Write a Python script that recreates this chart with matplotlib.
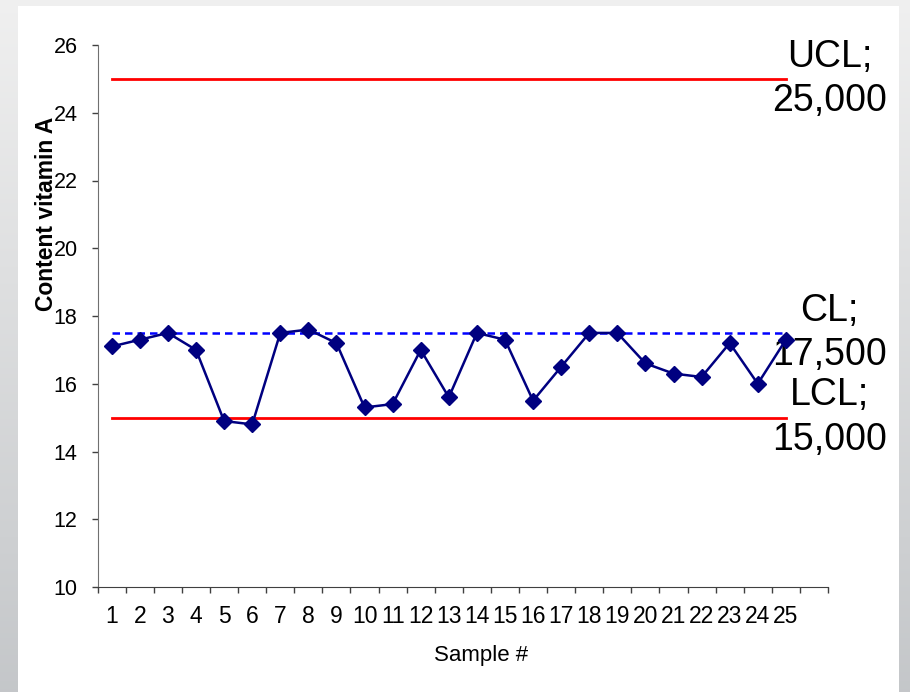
import numpy as np
import matplotlib
matplotlib.use("Agg")
import matplotlib.pyplot as plt
from matplotlib.patches import Rectangle
from matplotlib.ticker import FixedLocator, NullFormatter

plt.rcParams['font.family'] = ['Liberation Sans', 'DejaVu Sans']

# data
samples = np.arange(1, 26)
vitamin_a = [17.1, 17.3, 17.5, 17.0, 14.9, 14.8, 17.5, 17.6, 17.2, 15.3,
             15.4, 17.0, 15.6, 17.5, 17.3, 15.5, 16.5, 17.5, 17.5, 16.6,
             16.3, 16.2, 17.2, 16.0, 17.3]
ucl, cl, lcl = 25.0, 17.5, 15.0
limit_labels = ["UCL;\n25,000", "CL;\n17,500", "LCL;\n15,000"]

W, H = 910, 692
fig = plt.figure(figsize=(W / 100, H / 100), dpi=100)

# grey gradient backdrop with a white panel on top
bg = fig.add_axes([0, 0, 1, 1], zorder=-10)
grad = np.linspace(0, 1, 256).reshape(-1, 1)
top_c = np.array([0.94, 0.94, 0.94])
bot_c = np.array([0.77, 0.78, 0.79])
img = top_c + grad[..., None] * (bot_c - top_c)
bg.imshow(img, aspect='auto', extent=[0, 1, 0, 1], origin='upper')
bg.add_patch(Rectangle((18 / W, 0), (899 - 18) / W, 1 - 6 / H,
                       facecolor='white', edgecolor='none'))
bg.set_xlim(0, 1)
bg.set_ylim(0, 1)
bg.axis('off')

ax = fig.add_axes([97.7 / W, 1 - 587 / H, (828 - 97.7) / W, (587 - 45) / H])
ax.patch.set_alpha(0)

# control limit lines
ax.plot([samples[0], samples[-1]], [ucl, ucl], color='#ff0000', lw=2)
ax.plot([samples[0], samples[-1]], [lcl, lcl], color='#ff0000', lw=2)
ax.plot([samples[0], samples[-1]], [cl, cl], color='#0000ff', lw=1.8,
        dashes=(3, 2))

ax.plot(samples, vitamin_a, color='#000080', lw=1.8, marker='D',
        markersize=8.5, zorder=5)

for val, lab in zip([ucl, cl, lcl], limit_labels):
    ax.text(26.55, val, lab, ha='center', va='center', fontsize=27,
            multialignment='center', linespacing=1.3, clip_on=False)

ax.set_xlim(0.5, 26.5)
ax.set_ylim(10, 26)
ax.set_yticks(np.arange(10, 27, 2))
ax.set_xticks(samples)
ax.xaxis.set_minor_locator(FixedLocator(np.arange(0.5, 27, 1)))
ax.xaxis.set_minor_formatter(NullFormatter())
ax.tick_params(axis='x', which='major', length=0, pad=13, labelsize=16.5)
ax.tick_params(axis='x', which='minor', length=4.5, width=1, color='#404040')
ax.tick_params(axis='y', length=4.5, width=1, pad=10, labelsize=15.5,
               color='#404040')

for s in ['top', 'right']:
    ax.spines[s].set_visible(False)
ax.spines['left'].set_color('#707070')
ax.spines['bottom'].set_color('#404040')

ax.set_xlabel("Sample #", fontsize=16)
ax.xaxis.set_label_coords((481 - 97.7) / 730.3, -0.107)
ax.set_ylabel("Content vitamin A", fontsize=16.5, fontweight='bold')
ax.yaxis.set_label_coords(-0.054, 0.688)

fig.savefig("out.png", dpi=100)
